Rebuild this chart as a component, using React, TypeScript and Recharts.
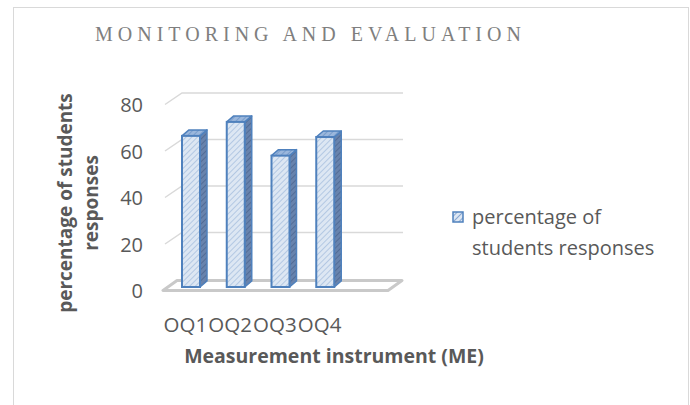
import { BarChart, Bar, XAxis, YAxis, CartesianGrid, Legend, Label } from "recharts";

const categories = ["OQ1", "OQ2", "OQ3", "OQ4"];
const responses = [65, 71, 56.5, 64.5];
const yTicks = [0, 20, 40, 60, 80];
const seriesName = "percentage of students responses";
const chartTitle = "MONITORING AND EVALUATION";
const xTitle = "Measurement instrument (ME)";
const yTitleLines = ["percentage of students", "responses"];

const data = categories.map((name, i) => ({ name, value: responses[i] }));

const font = "'Open Sans', sans-serif";
const textColor = "#595959";
const edge = "#4f81bd";
// depth of the fake 3d
const DX = 7;
const DY = 6;

function Bar3D(props: any) {
  const { x, y, width: w, height: h } = props;
  if (!h || h <= 0) return null;
  const side = `${x + w},${y} ${x + w + DX},${y - DY} ${x + w + DX},${y + h - DY} ${x + w},${y + h}`;
  const top = `${x},${y} ${x + DX},${y - DY} ${x + w + DX},${y - DY} ${x + w},${y}`;
  return (
    <g>
      <polygon points={side} fill="url(#hatchSide)" stroke={edge} strokeWidth={1.5} strokeLinejoin="round" />
      <polygon points={top} fill="url(#hatchTop)" stroke={edge} strokeWidth={1.5} strokeLinejoin="round" />
      <rect x={x} y={y} width={w} height={h} fill="url(#hatchFront)" stroke={edge} strokeWidth={2} />
    </g>
  );
}

function GridLine(props: any) {
  const { x1, y1, y, height, index } = props;
  const fy = y1 + 3.5;
  if (Math.abs(y1 - (y + height)) < 1) {
    // floor slab
    const pts = `${x1 - 6},${fy} ${x1 + 219},${fy} ${x1 + 233},${fy - 10} ${x1 + 8},${fy - 10}`;
    return <polygon key={`g-${index}`} points={pts} fill="#fff" stroke="#c9c9c9" strokeWidth={3} strokeLinejoin="round" />;
  }
  const by = fy - 11.5;
  return (
    <path
      key={`g-${index}`}
      d={`M${x1 - 4},${fy} L${x1 + 13},${by} L${x1 + 234},${by}`}
      fill="none"
      stroke="#d9d9d9"
      strokeWidth={1.5}
    />
  );
}

function YTick(props: any) {
  const { x, y, payload } = props;
  return (
    <text x={x - 18} y={y + 3.5} textAnchor="end" dominantBaseline="central" fill={textColor} fontSize={20} fontFamily={font}>
      {payload.value}
    </text>
  );
}

function XTick(props: any) {
  const { x, payload } = props;
  return (
    <text x={x - 6} y={332} textAnchor="middle" fill={textColor} fontSize={20.5} fontFamily={font}>
      {payload.value}
    </text>
  );
}

function YTitle() {
  return (
    <g transform="rotate(-90)" fontFamily={font} fontSize={19} fontWeight="bold" fill={textColor}>
      <text x={-203} y={72} textAnchor="middle">{yTitleLines[0]}</text>
      <text x={-203} y={98} textAnchor="middle">{yTitleLines[1]}</text>
    </g>
  );
}

function XTitle() {
  return (
    <text x={334} y={363} textAnchor="middle" fontFamily={font} fontSize={19.5} fontWeight="bold" fill={textColor}>
      {xTitle}
    </text>
  );
}

function LegendBox(props: any) {
  const item = props.payload && props.payload[0];
  return (
    <div style={{ display: "flex", alignItems: "flex-start", fontFamily: font, fontSize: 20, color: textColor, lineHeight: "31px" }}>
      <svg width={12} height={12} style={{ marginTop: 10, marginRight: 8, flex: "none" }}>
        <rect x={1} y={1} width={10} height={10} fill="url(#hatchIcon)" stroke={edge} strokeWidth={1.5} />
      </svg>
      <div style={{ width: 195 }}>{item ? item.value : seriesName}</div>
    </div>
  );
}

export default function App() {
  return (
    <div style={{ position: "absolute", left: 0, top: 0, width: 690, height: 405, overflow: "hidden", background: "#fff" }}>
      <svg width={0} height={0} style={{ position: "absolute" }}>
        <defs>
          <pattern id="hatchFront" width="4" height="4" patternUnits="userSpaceOnUse" patternTransform="rotate(45)">
            <rect width="4" height="4" fill="#dde7f3" />
            <line x1="0" y1="0" x2="0" y2="4" stroke="#a8c0df" strokeWidth="1.6" />
          </pattern>
          <pattern id="hatchSide" width="4" height="4" patternUnits="userSpaceOnUse" patternTransform="rotate(45)">
            <rect width="4" height="4" fill="#6883ad" />
            <line x1="0" y1="0" x2="0" y2="4" stroke="#4c6690" strokeWidth="1.6" />
          </pattern>
          <pattern id="hatchTop" width="4" height="4" patternUnits="userSpaceOnUse" patternTransform="rotate(45)">
            <rect width="4" height="4" fill="#9bb7dc" />
            <line x1="0" y1="0" x2="0" y2="4" stroke="#7096c8" strokeWidth="1.6" />
          </pattern>
          <pattern id="hatchIcon" width="4" height="4" patternUnits="userSpaceOnUse" patternTransform="rotate(45)">
            <rect width="4" height="4" fill="#dde7f3" />
            <line x1="0" y1="0" x2="0" y2="4" stroke="#7ea0cf" strokeWidth="1.8" />
          </pattern>
        </defs>
      </svg>
      <div style={{ position: "absolute", left: 13, top: 7, width: 676, height: 420, border: "1.5px solid #d9d9d9", boxSizing: "border-box" }} />
      <svg width={690} height={60} style={{ position: "absolute", left: 0, top: 0 }}>
        <text x={95} y={41} fontFamily="'Liberation Serif', 'Times New Roman', serif" fontSize={20} letterSpacing={5} fill="#7f7f7f">
          {chartTitle}
        </text>
      </svg>
      <div style={{ position: "absolute", left: 0, top: 0 }}>
        <BarChart width={690} height={405} data={data} margin={{ top: 101, right: 342, bottom: 88, left: 109 }}>
          <CartesianGrid vertical={false} horizontal={GridLine} syncWithTicks />
          <XAxis dataKey="name" axisLine={false} tickLine={false} tick={<XTick />} interval={0} height={30}>
            <Label content={() => <XTitle />} />
          </XAxis>
          <YAxis domain={[0, 80]} ticks={yTicks} axisLine={false} tickLine={false} tick={<YTick />} width={60} interval={0}>
            <Label content={() => <YTitle />} />
          </YAxis>
          <Legend
            layout="horizontal"
            verticalAlign="middle"
            align="center"
            content={<LegendBox />}
            wrapperStyle={{ left: 452, top: 201, width: 240 }}
          />
          <Bar dataKey="value" name={seriesName} barSize={18} shape={<Bar3D />} isAnimationActive={false} />
        </BarChart>
      </div>
    </div>
  );
}
